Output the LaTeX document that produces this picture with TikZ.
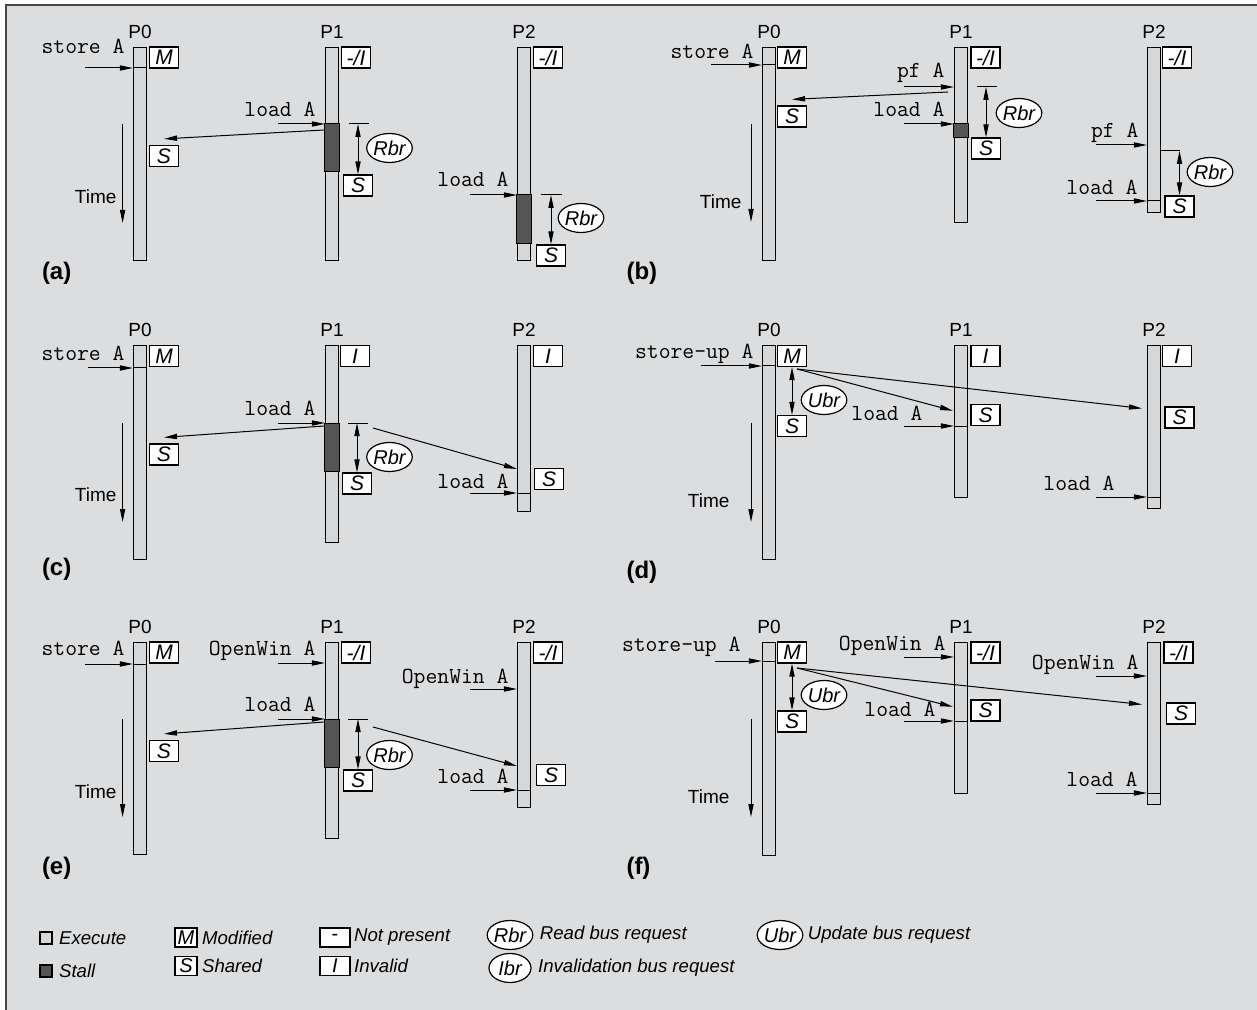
\documentclass[tikz,border=0pt]{standalone}
\usepackage{fontspec}
\setmainfont{Liberation Sans}
\usetikzlibrary{arrows.meta, shapes.geometric, positioning}

\definecolor{panelbg}{RGB}{220,221,223}
\definecolor{barfill}{RGB}{214,215,217}
\definecolor{stallfill}{RGB}{85,85,85}
\definecolor{framegray}{RGB}{70,70,70}

\tikzset{
  procbar/.style={draw, fill=barfill, line width=0.6pt, minimum width=6.5pt, inner sep=0pt, anchor=north},
  stbox/.style={draw, fill=white, line width=0.6pt, minimum width=14.5pt, minimum height=10.5pt, inner sep=0pt, font=\fontsize{10.5}{12}\selectfont\itshape},
  busreq/.style={ellipse, draw, fill=white, line width=0.6pt, minimum width=21pt, minimum height=14.5pt, inner sep=0pt, font=\fontsize{10}{12}\selectfont\itshape},
  cmd/.style={anchor=base east, inner sep=0pt, font=\fontsize{11.5}{13}\selectfont\ttfamily},
  plabel/.style={inner sep=0pt, font=\fontsize{9.5}{11}\selectfont},
  timelabel/.style={anchor=east, inner sep=0pt, font=\fontsize{9.5}{11}\selectfont},
  panel/.style={anchor=west, inner sep=0pt, font=\fontsize{12}{14}\selectfont\bfseries},
  legtext/.style={anchor=west, inner sep=0pt, font=\fontsize{9.3}{11}\selectfont\itshape},
  legsq/.style={draw, line width=0.6pt, minimum size=6pt, inner sep=0pt},
  legbox/.style={draw, fill=white, line width=0.6pt, minimum width=11pt, minimum height=9.5pt, inner sep=0pt, font=\fontsize{10}{12}\selectfont\itshape},
}

% processor time line: name, x, top, bottom
\newcommand{\procnode}[4]{\node[procbar, minimum height={(#4-#3)*0.5pt}] (#1) at (#2,#3) {};}
\newcommand{\splitbar}[2]{\draw (#1.west |- 0,#2) -- (#1.east |- 0,#2);}
\newcommand{\stallbar}[3]{\draw[fill=stallfill] (#1.west |- 0,#2) rectangle (#1.east |- 0,#3);}
% request arrow into a time line: name, bar, x start, y
\newcommand{\cmdarrow}[4]{\coordinate (#1) at (#3,#4); \draw[->] (#1) -- (#1 -| #2.west);}
\newcommand{\timeaxis}[4]{\coordinate (#1-ttop) at (#2,#3); \coordinate (#1-tbot) at (#2,#4); \draw[->] (#1-ttop) -- (#1-tbot);}

\begin{document}
\begin{tikzpicture}[x=0.5pt, y=-0.5pt, line width=0.5pt, >={Triangle[length=6.5pt,width=2.6pt]}]
\useasboundingbox (0,0) rectangle (1257,1010);
\fill[panelbg] (6,5) rectangle (1257,1010);
\draw[framegray, line width=0.8pt] (6,1010) -- (6,5) -- (1257,5);

% (a)
\procnode{a0}{140}{47}{260}
\procnode{a1}{332}{47}{260}
\procnode{a2}{524}{47}{260}
\node[plabel, above=4pt of a0] (a-p0) {P0};
\node[plabel, above=4pt of a1] (a-p1) {P1};
\node[plabel, above=4pt of a2] (a-p2) {P2};
\splitbar{a0}{68}
\stallbar{a1}{124}{172}
\stallbar{a2}{195}{244}
\node[stbox] (a-m0) at (164,57.5) {M};
\node[stbox] (a-i1) at (356,57.5) {-/I};
\node[stbox] (a-i2) at (548,57.5) {-/I};
\node[stbox] (a-s0) at (164,156) {S};
\node[stbox] (a-s1) at (358,185.5) {S};
\node[stbox] (a-s2) at (551,255.5) {S};
\node[cmd] (a-c0) at (125,53.5) {store A};
\node[cmd] (a-c1) at (316,116.5) {load A};
\node[cmd] (a-c2) at (509,186.5) {load A};
\cmdarrow{a-in0}{a0}{85}{68}
\cmdarrow{a-in1}{a1}{278}{124}
\cmdarrow{a-in2}{a2}{470}{195}
\coordinate (a-q1) at (324,130);
\draw[->] (a-q1) -- ([yshift=3pt]a-s0.north);
\draw (349,124) -- (369,124);
\draw[<->] (a-s1.north |- a-in1) -- (a-s1.north);
\node[busreq] (a-r1) at (389.5,148) {Rbr};
\draw (541,195) -- (562,195);
\draw[<->] (a-s2.north |- a-in2) -- (a-s2.north);
\node[busreq] (a-r2) at (581,218) {Rbr};
\timeaxis{a}{122.6}{124}{223}
\node[timelabel] (a-time) at (117,197) {Time};
\node[panel] (a-lbl) at (41.5,273) {(a)};

% (b)
\procnode{b0}{769}{47}{260}
\procnode{b1}{961}{47}{222}
\procnode{b2}{1154}{47}{212}
\node[plabel, above=4pt of b0] (b-p0) {P0};
\node[plabel, above=4pt of b1] (b-p1) {P1};
\node[plabel, above=4pt of b2] (b-p2) {P2};
\splitbar{b0}{65}
\stallbar{b1}{124}{138}
\splitbar{b2}{201}
\node[stbox] (b-m0) at (792,57.5) {M};
\node[stbox] (b-i1) at (985.5,57.5) {-/I};
\node[stbox] (b-i2) at (1177,57.5) {-/I};
\node[stbox] (b-s0) at (792,116.5) {S};
\node[stbox] (b-s1) at (986,148.5) {S};
\node[stbox] (b-s2) at (1179.5,206.5) {S};
\node[cmd] (b-c0) at (754,58.5) {store A};
\node[cmd] (b-c1) at (945,78) {pf A};
\node[cmd] (b-c2) at (945,116.5) {load A};
\node[cmd] (b-c3) at (1139,138) {pf A};
\node[cmd] (b-c4) at (1138,194.5) {load A};
\cmdarrow{b-in0}{b0}{711}{65}
\cmdarrow{b-in1}{b1}{904}{87}
\cmdarrow{b-in2}{b1}{904}{124}
\cmdarrow{b-in3}{b2}{1096}{145}
\cmdarrow{b-in4}{b2}{1096}{201}
\coordinate (b-q1) at (948,92);
\draw[->] (b-q1) -- ([yshift=3pt]b-s0.north);
\draw (977,87) -- (997,87);
\draw[<->] (b-s1.north |- b-in1) -- (b-s1.north);
\node[busreq] (b-r1) at (1019,113) {Rbr};
\draw (b2.east |- 0,151) -- (b-s2.north |- 0,151);
\draw[<->] (b-s2.north |- 0,151) -- (b-s2.north);
\node[busreq] (b-r2) at (1210,172) {Rbr};
\timeaxis{b}{751}{124}{222}
\node[timelabel] (b-time) at (742,202) {Time};
\node[panel] (b-lbl) at (626,273) {(b)};

% (c)
\procnode{c0}{140}{345}{559}
\procnode{c1}{332}{345}{542}
\procnode{c2}{524}{345}{511}
\node[plabel, above=4pt of c0] (c-p0) {P0};
\node[plabel, above=4pt of c1] (c-p1) {P1};
\node[plabel, above=4pt of c2] (c-p2) {P2};
\splitbar{c0}{368}
\stallbar{c1}{423}{471}
\splitbar{c2}{493}
\node[stbox] (c-m0) at (164,356) {M};
\node[stbox] (c-i1) at (355,356) {I};
\node[stbox] (c-i2) at (548,356) {I};
\node[stbox] (c-s0) at (164,454.5) {S};
\node[stbox] (c-s1) at (357,483.5) {S};
\node[stbox] (c-s2) at (549,479) {S};
\node[cmd] (c-c0) at (125,360.5) {store A};
\node[cmd] (c-c1) at (316,415.5) {load A};
\node[cmd] (c-c2) at (509,488.5) {load A};
\cmdarrow{c-in0}{c0}{88}{368}
\cmdarrow{c-in1}{c1}{278}{423}
\cmdarrow{c-in2}{c2}{470}{493}
\coordinate (c-q1) at (324,426);
\draw[->] (c-q1) -- ([yshift=3pt]c-s0.north);
\draw (348,423) -- (368,423);
\draw[<->] (c-s1.north |- c-in1) -- (c-s1.north);
\node[busreq] (c-r1) at (389.5,457) {Rbr};
\coordinate (c-q2) at (373,428);
\draw[->] (c-q2) -- (c2.west |- 0,469);
\timeaxis{c}{122.6}{423}{522}
\node[timelabel] (c-time) at (117,495) {Time};
\node[panel] (c-lbl) at (41.5,569) {(c)};

% (d)
\procnode{d0}{769}{345}{559}
\procnode{d1}{961}{345}{497}
\procnode{d2}{1154}{345}{508}
\node[plabel, above=4pt of d0] (d-p0) {P0};
\node[plabel, above=4pt of d1] (d-p1) {P1};
\node[plabel, above=4pt of d2] (d-p2) {P2};
\splitbar{d0}{366}
\splitbar{d1}{426}
\splitbar{d2}{497}
\node[stbox] (d-m0) at (792,356) {M};
\node[stbox] (d-i1) at (985.5,356) {I};
\node[stbox] (d-i2) at (1177,356) {I};
\node[stbox] (d-s0) at (792,426) {S};
\node[stbox] (d-s1) at (985.5,415) {S};
\node[stbox] (d-s2) at (1179.5,417.5) {S};
\node[cmd] (d-c0) at (754,358.5) {store-up A};
\node[cmd] (d-c1) at (923,420.5) {load A};
\node[cmd] (d-c2) at (1115,490.5) {load A};
\cmdarrow{d-in0}{d0}{701}{366}
\cmdarrow{d-in1}{d1}{904}{426}
\cmdarrow{d-in2}{d2}{1096}{497}
\draw[<->] (d-m0.south) -- (d-s0.north);
\node[busreq] (d-u1) at (824,400) {Ubr};
\coordinate (d-u0) at (797,369);
\draw[->, shorten >=0.5pt] (d-u0) -- (d1.west |- 0,411);
\draw[->, shorten >=2.5pt] (d-u0) -- (d2.west |- 0,409);
\timeaxis{d}{751}{423}{522}
\node[timelabel] (d-time) at (730,501) {Time};
\node[panel] (d-lbl) at (626,572) {(d)};

% (e)
\procnode{e0}{140}{642}{854}
\procnode{e1}{332}{642}{838}
\procnode{e2}{524}{642}{807}
\node[plabel, above=4pt of e0] (e-p0) {P0};
\node[plabel, above=4pt of e1] (e-p1) {P1};
\node[plabel, above=4pt of e2] (e-p2) {P2};
\splitbar{e0}{664}
\stallbar{e1}{719}{767}
\splitbar{e2}{790}
\node[stbox] (e-m0) at (164,652.5) {M};
\node[stbox] (e-i1) at (356,652.5) {-/I};
\node[stbox] (e-i2) at (548,652.5) {-/I};
\node[stbox] (e-s0) at (164,751) {S};
\node[stbox] (e-s1) at (358,780.5) {S};
\node[stbox] (e-s2) at (551,775) {S};
\node[cmd] (e-c0) at (125,655.5) {store A};
\node[cmd] (e-c1) at (316,655.5) {OpenWin A};
\node[cmd] (e-c2) at (316,711.5) {load A};
\node[cmd] (e-c3) at (509,683.5) {OpenWin A};
\node[cmd] (e-c4) at (509,783.5) {load A};
\cmdarrow{e-in0}{e0}{85}{664}
\cmdarrow{e-in1}{e1}{278}{663}
\cmdarrow{e-in2}{e1}{278}{719}
\cmdarrow{e-in3}{e2}{470}{689}
\cmdarrow{e-in4}{e2}{470}{790}
\coordinate (e-q1) at (324,722);
\draw[->] (e-q1) -- ([yshift=3pt]e-s0.north);
\draw (348,719) -- (368,719);
\draw[<->] (e-s1.north |- e-in2) -- (e-s1.north);
\node[busreq] (e-r1) at (389.5,755) {Rbr};
\coordinate (e-q2) at (373,727);
\draw[->] (e-q2) -- (e2.west |- 0,766);
\timeaxis{e}{122.6}{719}{817}
\node[timelabel] (e-time) at (117,792) {Time};
\node[panel] (e-lbl) at (41.5,868) {(e)};

% (f)
\procnode{f0}{769}{642}{855}
\procnode{f1}{961}{642}{793}
\procnode{f2}{1154}{642}{804}
\node[plabel, above=4pt of f0] (f-p0) {P0};
\node[plabel, above=4pt of f1] (f-p1) {P1};
\node[plabel, above=4pt of f2] (f-p2) {P2};
\splitbar{f0}{661}
\splitbar{f1}{721}
\splitbar{f2}{793}
\node[stbox] (f-m0) at (792,652.5) {M};
\node[stbox] (f-i1) at (985.5,652.5) {-/I};
\node[stbox] (f-i2) at (1178.5,652.5) {-/I};
\node[stbox] (f-s0) at (792,721.5) {S};
\node[stbox] (f-s1) at (985.5,710.5) {S};
\node[stbox] (f-s2) at (1181,713.5) {S};
\node[cmd] (f-c0) at (741,651.5) {store-up A};
\node[cmd] (f-c1) at (946,650.5) {OpenWin A};
\node[cmd] (f-c2) at (936,716.5) {load A};
\node[cmd] (f-c3) at (1139,669.5) {OpenWin A};
\node[cmd] (f-c4) at (1138,786.5) {load A};
\cmdarrow{f-in0}{f0}{715}{661}
\cmdarrow{f-in1}{f1}{904}{657}
\cmdarrow{f-in2}{f1}{904}{721}
\cmdarrow{f-in3}{f2}{1096}{676}
\cmdarrow{f-in4}{f2}{1096}{793}
\draw[<->] (f-m0.south) -- (f-s0.north);
\node[busreq] (f-u1) at (824,695) {Ubr};
\coordinate (f-u0) at (797,668);
\draw[->, shorten >=0.5pt] (f-u0) -- (f1.west |- 0,707);
\draw[->, shorten >=2.5pt] (f-u0) -- (f2.west |- 0,705);
\timeaxis{f}{751}{719}{817}
\node[timelabel] (f-time) at (730,797) {Time};
\node[panel] (f-lbl) at (626,868) {(f)};

% legend
\node[legsq, fill=barfill] (l-ex) at (46,938) {};
\node[legtext, right=3pt of l-ex] (l-ext) {Execute};
\node[legsq, fill=stallfill] (l-st) at (46,971) {};
\node[legtext, right=3pt of l-st] (l-stt) {Stall};
\node[legbox] (l-m) at (186,937.5) {M};
\node[legtext, right=2pt of l-m] (l-mt) {Modified};
\node[legbox] (l-s) at (186,966) {S};
\node[legtext, right=2pt of l-s] (l-st2) {Shared};
\node[legbox, minimum width=15pt, font=\fontsize{10}{12}\selectfont] (l-np) at (335,937.5) {-};
\node[legtext, right=1.5pt of l-np] (l-npt) {Not present};
\node[legbox, minimum width=15pt] (l-iv) at (335,966) {I};
\node[legtext, right=1.5pt of l-iv] (l-ivt) {Invalid};
\node[busreq] (l-rbr) at (510,935) {Rbr};
\node[legtext, right=3pt of l-rbr] (l-rbrt) {Read bus request};
\node[busreq] (l-ibr) at (510,968) {Ibr};
\node[legtext, right=3pt of l-ibr] (l-ibrt) {Invalidation bus request};
\node[busreq] (l-ubr) at (780,935) {Ubr};
\node[legtext, right=2pt of l-ubr] (l-ubrt) {Update bus request};
\end{tikzpicture}
\end{document}
